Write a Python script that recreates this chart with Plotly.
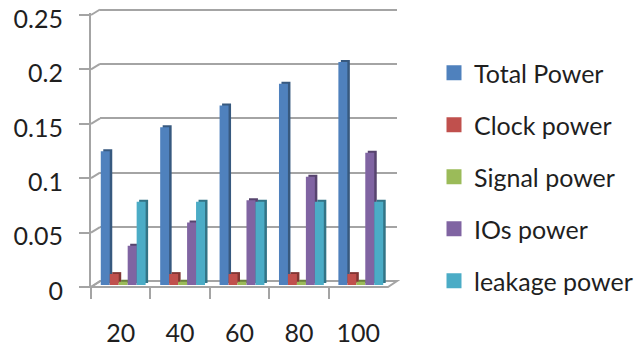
import plotly.graph_objects as go

W, H = 640, 347

# Chart data
categories = ["20", "40", "60", "80", "100"]
total_power = [0.123, 0.145, 0.165, 0.185, 0.205]
clock_power = [0.01, 0.01, 0.01, 0.01, 0.01]
signal_power = [0.003, 0.003, 0.003, 0.003, 0.003]
ios_power = [0.036, 0.0575, 0.078, 0.0995, 0.1215]
leakage_power = [0.0765, 0.0765, 0.0765, 0.0765, 0.0765]
y_ticks = [0, 0.05, 0.1, 0.15, 0.2, 0.25]
y_labels = ["0", "0.05", "0.1", "0.15", "0.2", "0.25"]

series = [
    ("Total Power", total_power, "#4f81bd", "#37597f"),
    ("Clock power", clock_power, "#c0504d", "#823634"),
    ("Signal power", signal_power, "#9bbb59", "#6a803d"),
    ("IOs power", ios_power, "#8064a2", "#57446e"),
    ("leakage power", leakage_power, "#4bacc6", "#337486"),
]

FONT = "Lato, Open Sans, sans-serif"
GRID = "#a4a4a4"
STEP = 54.4          # pixels per 0.05 on the value axes
YMAX = 0.252         # slightly past the top tick so it stays inside the range
HEADROOM = (YMAX - 0.25) / 0.05 * STEP
XRANGE = [-0.5, 4.5]
hidden = dict(showgrid=False, zeroline=False, showticklabels=False, ticks="", showline=False)


def xdom(left, right):
    return [left / W, right / W]


def ydom(bottom, top):
    return [1 - bottom / H, 1 - (top - HEADROOM) / H]


fig = go.Figure()

# Empty trace so the back wall subplot gets drawn with its gridlines
fig.add_trace(go.Scatter(x=[None], y=[None], mode="markers", showlegend=False, hoverinfo="skip",
                         xaxis="x", yaxis="y"))

# Side and top faces of the bars, offset up and to the right of the fronts
for name, values, _, dark in series:
    fig.add_trace(go.Bar(x=categories, y=values, marker_color=dark, marker_line_width=0,
                         xaxis="x2", yaxis="y2", showlegend=False, hoverinfo="skip"))

# Front faces of the bars
for name, values, color, _ in series:
    fig.add_trace(go.Bar(x=categories, y=values, marker_color=color, marker_line_width=0,
                         xaxis="x3", yaxis="y3", showlegend=False, name=name))

# Front axes carrying ticks; also hosts the legend entries with larger swatches
for name, _, color, _ in series:
    fig.add_trace(go.Scatter(x=[None], y=[None], mode="markers", name=name, legendgroup=name,
                             marker=dict(symbol="square", size=15, color=color),
                             xaxis="x4", yaxis="y4"))

# Value labels sit a few pixels below their tick marks, so they get their own axis
fig.add_trace(go.Scatter(x=[None], y=[None], mode="markers", showlegend=False, hoverinfo="skip",
                         xaxis="x5", yaxis="y5"))

# Floor of the chart box
floor = dict(type="path", xref="paper", yref="paper", layer="below",
             path=f"M {91/W} {1-287/H} L {388/W} {1-287/H} L {397/W} {1-281/H} L {100/W} {1-281/H} Z",
             fillcolor="white", line=dict(color=GRID, width=2))

# Diagonal connectors between the front ticks and the back wall
connectors = [
    dict(type="line", xref="paper", yref="paper", layer="below",
         x0=91 / W, x1=100 / W, y0=1 - (287 - k * STEP) / H, y1=1 - (281.5 - k * STEP) / H,
         line=dict(color=GRID, width=2))
    for k in range(len(y_ticks))
]

fig.update_layout(
    width=W, height=H,
    margin=dict(l=0, r=0, t=0, b=0, autoexpand=False),
    paper_bgcolor="white", plot_bgcolor="rgba(0,0,0,0)",
    barmode="group", bargap=0.245, bargroupgap=0,
    font=dict(family=FONT, size=25, color="#1f1f1f"),
    shapes=[floor] + connectors,
    # Back wall with its gridlines
    xaxis=dict(domain=xdom(100, 397), range=XRANGE, **hidden),
    yaxis=dict(domain=ydom(281.5, 9.5), range=[0, YMAX], tickvals=y_ticks, showgrid=True, gridcolor=GRID,
               gridwidth=2, zeroline=False, showticklabels=False, ticks="", showline=False),
    # Depth layer
    xaxis2=dict(domain=xdom(96, 393), range=XRANGE, anchor="y2", type="category",
                categoryorder="array", categoryarray=categories, **hidden),
    yaxis2=dict(domain=ydom(283, 11), range=[0, YMAX], anchor="x2", **hidden),
    # Front faces of the bars
    xaxis3=dict(domain=xdom(93.5, 390.5), range=XRANGE, anchor="y3", type="category",
                categoryorder="array", categoryarray=categories, **hidden),
    yaxis3=dict(domain=ydom(285, 13), range=[0, YMAX], anchor="x3", **hidden),
    # Front axes with ticks and category labels
    xaxis4=dict(domain=xdom(91, 388), range=XRANGE, anchor="y4", type="category",
                categoryorder="array", categoryarray=categories, showgrid=False, zeroline=False,
                tickson="boundaries", ticks="outside", ticklen=11, tickwidth=2, tickcolor=GRID,
                ticklabelstandoff=29, showline=False, ticklabeloverflow="allow"),
    yaxis4=dict(domain=ydom(287, 15), range=[0, YMAX], anchor="x4", tickvals=y_ticks, showticklabels=False,
                showgrid=False, zeroline=False, ticks="outside", ticklen=10, tickwidth=2, tickcolor=GRID,
                showline=True, linecolor=GRID, linewidth=2),
    # Value labels
    xaxis5=dict(domain=xdom(91, 388), range=XRANGE, anchor="y5", **hidden),
    yaxis5=dict(domain=ydom(291, 19), range=[0, YMAX], anchor="x5", tickvals=y_ticks, ticktext=y_labels,
                showgrid=False, zeroline=False, ticks="outside", ticklen=10, tickcolor="rgba(0,0,0,0)",
                showline=False, ticklabelstandoff=12, ticklabeloverflow="allow"),
    legend=dict(x=434 / W, y=1 - 50 / H, xanchor="left", yanchor="top", tracegroupgap=16.5,
                bgcolor="rgba(0,0,0,0)", font=dict(family=FONT, size=25), itemwidth=30),
    showlegend=True,
)

fig.write_html("out.html")
